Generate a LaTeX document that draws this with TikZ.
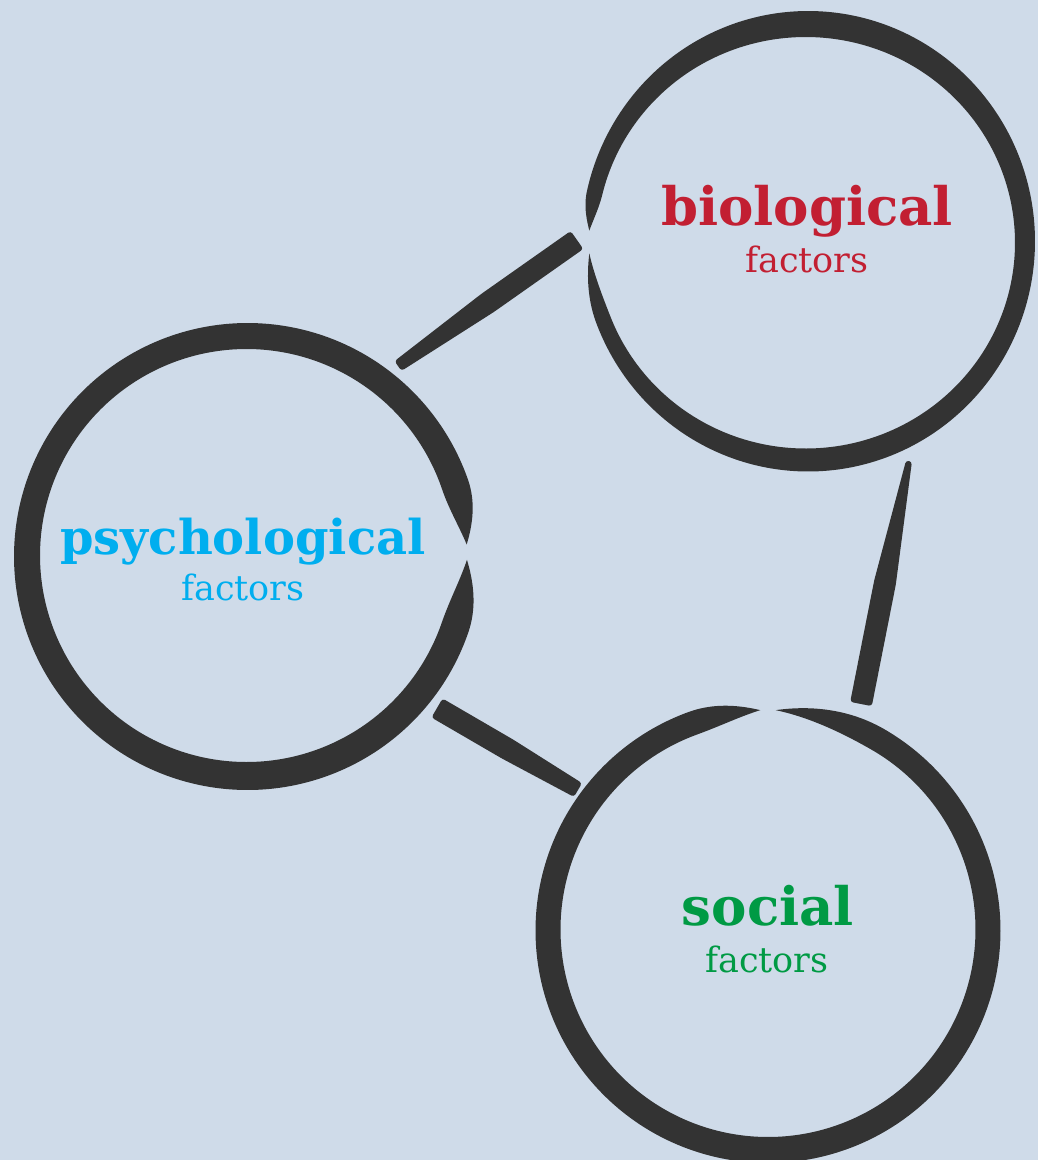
\documentclass[tikz,border=0pt]{standalone}
\usepackage{fontspec}
\setmainfont{DejaVu Serif}
\usetikzlibrary{calc}
\definecolor{bg}{HTML}{CFDBE9}
\definecolor{ink}{HTML}{333333}
\definecolor{bioc}{HTML}{C21F32}
\definecolor{psyc}{HTML}{00AEEF}
\definecolor{socc}{HTML}{009A44}
\newcommand\brushline[5]{%
  \coordinate (bm) at ($(#1)!0.5!(#2)$);
  \fill[ink, rounded corners=3pt] ($(#1)!#3!90:(#2)$) -- ($(bm)!#4!90:(#2)$) -- ($(#2)!#5!-90:(#1)$)
     -- ($(#2)!#5!90:(#1)$) -- ($(bm)!#4!-90:(#2)$) -- ($(#1)!#3!-90:(#2)$) -- cycle;}
\begin{document}
\begin{tikzpicture}[x=1pt,y=-1pt,
  declare function={
    tp(\t,\s,\e,\a,\b)=sin(90*max(0,min(1,(\t-\s)/\a,(\e-\t)/\b)));
    wb(\t)=(21+2.5*cos(\t)-1.5*sin(\t)-3.5*cos(2*\t))*tp(\t,-177,177,10,18);
    wp(\t)=(27+1*cos(\t)+1*sin(\t))*tp(\t,1,357,18,16);
    ws(\t)=(25+1*sin(\t))*tp(\t,-88,268,28,18);
  },
  title/.style={font=\fontsize{53}{53}\selectfont\bfseries, anchor=base, inner sep=0pt},
  sub/.style={font=\fontsize{35}{35}\selectfont, anchor=base, inner sep=0pt}]
\fill[bg] (0,0) rectangle (1038,1160);
\useasboundingbox (0,0) rectangle (1038,1160);
% rings
\fill[ink] plot[domain=-177:177, samples=360] ({807+(218+0.5*wb(\x))*cos(\x)}, {242+(218+0.5*wb(\x))*sin(\x)})
  -- plot[domain=177:-177, samples=360] ({807+(218-0.5*wb(\x))*cos(\x)}, {242+(218-0.5*wb(\x))*sin(\x)}) -- cycle;
\fill[ink] plot[domain=1:357, samples=360] ({247+(220+0.5*wp(\x))*cos(\x)}, {556+(220+0.5*wp(\x))*sin(\x)})
  -- plot[domain=357:1, samples=360] ({247+(220-0.5*wp(\x))*cos(\x)}, {556+(220-0.5*wp(\x))*sin(\x)}) -- cycle;
\fill[ink] plot[domain=-88:268, samples=360] ({768+(220+0.5*ws(\x))*cos(\x)}, {930+(220+0.5*ws(\x))*sin(\x)})
  -- plot[domain=268:-88, samples=360] ({768+(220-0.5*ws(\x))*cos(\x)}, {930+(220-0.5*ws(\x))*sin(\x)}) -- cycle;
% connector ends
\coordinate (bpA) at (398,366);
\coordinate (bpB) at (577,240);
\coordinate (psA) at (437,708);
\coordinate (psB) at (578,790);
\coordinate (bsA) at (909,461);
\coordinate (bsB) at (861,704);
\brushline{bpA}{bpB}{6pt}{11pt}{11pt}
\brushline{psA}{psB}{11pt}{11pt}{8pt}
\brushline{bsA}{bsB}{3pt}{11pt}{11pt}
% texts
\node[title, text=bioc] (bio) at (807,225) {biological};
\node[sub, text=bioc] (biof) at (807,272) {factors};
\node[title, text=psyc, font=\fontsize{48}{48}\selectfont\bfseries] (psy) at (243,554) {psychological};
\node[sub, text=psyc] (psyf) at (243,600) {factors};
\node[title, text=socc] (soc) at (768,925) {social};
\node[sub, text=socc] (socf) at (767,972) {factors};
\end{tikzpicture}
\end{document}
